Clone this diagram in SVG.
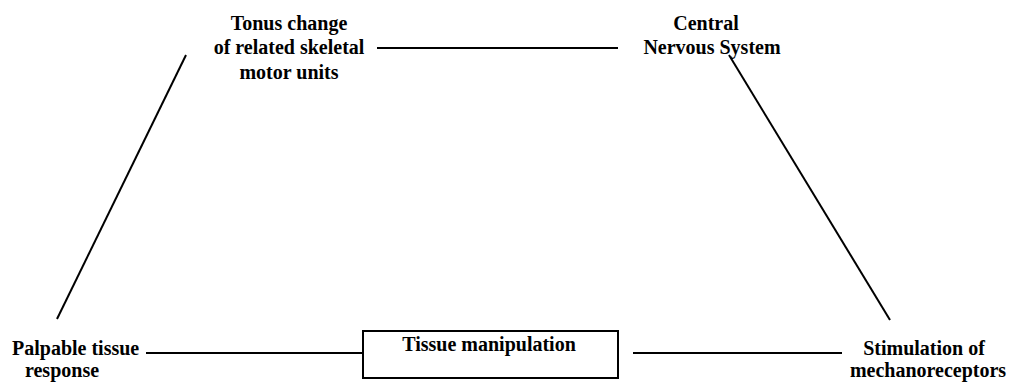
<svg xmlns="http://www.w3.org/2000/svg" width="1018" height="385" viewBox="0 0 1018 385">
<style>
text{font-family:"Liberation Serif","Times New Roman",serif;font-weight:bold;font-size:20px;fill:#000}
.c{text-anchor:middle}
.ln{stroke:#000;stroke-width:2;fill:none}
</style>
<rect width="1018" height="385" fill="#fff"/>
<g id="connectors">
<line class="ln" x1="377" y1="48" x2="618" y2="48"/>
<line class="ln" x1="729" y1="55" x2="890" y2="320"/>
<line class="ln" x1="186" y1="55" x2="57" y2="319"/>
<line class="ln" x1="146" y1="353" x2="362" y2="353"/>
<line class="ln" x1="633" y1="353" x2="842" y2="353"/>
</g>
<g id="tonus">
<text class="c" x="289" y="30">Tonus change</text>
<text class="c" x="289" y="54">of related skeletal</text>
<text class="c" x="289" y="79">motor units</text>
</g>
<g id="cns">
<text class="c" x="706" y="30">Central</text>
<text class="c" x="712" y="54">Nervous System</text>
</g>
<g id="palpable">
<text x="12" y="355">Palpable tissue</text>
<text class="c" x="62" y="377">response</text>
</g>
<g id="tissue">
<rect x="363" y="331" width="255" height="47" fill="#fff" stroke="#000" stroke-width="2"/>
<text class="c" x="489" y="351">Tissue manipulation</text>
</g>
<g id="stimulation">
<text class="c" x="924" y="355">Stimulation of</text>
<text class="c" x="928" y="377">mechanoreceptors</text>
</g>
</svg>
